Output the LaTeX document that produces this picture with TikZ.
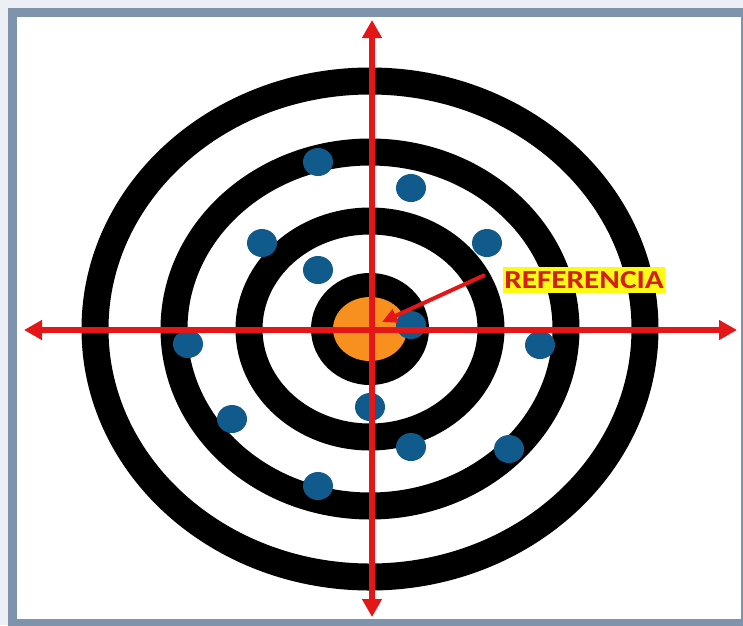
\documentclass[tikz,border=0pt]{standalone}
\usepackage{fontspec}
\newfontfamily\labelfont{Carlito}
\usetikzlibrary{arrows.meta}

\definecolor{shadowcol}{RGB}{236,239,243}
\definecolor{framecol}{RGB}{128,147,173}
\definecolor{axisred}{RGB}{228,22,24}
\definecolor{textred}{RGB}{212,30,22}
\definecolor{targetorange}{RGB}{247,144,30}
\definecolor{shotblue}{RGB}{16,90,140}
\definecolor{labelyellow}{RGB}{252,250,20}

\begin{document}
\begin{tikzpicture}[
        x=1pt,
        y=-1pt,
        ring/.style={draw=black, line width=27pt},
        shot/.style={fill=shotblue},
        axis/.style={draw=axisred, line width=6pt,
            {Triangle[length=18pt,width=19pt]}-{Triangle[length=18pt,width=19pt]}},
        refarrow/.style={draw=axisred, line width=4pt,
            -{Triangle[length=15pt,width=14pt]}}
    ]

    % ---------- marco ----------
    \useasboundingbox (0,0) rectangle (743,625);
    \clip (0,0) rectangle (743,625);
    \fill[shadowcol] (0,0) rectangle (743,625);
    \fill[framecol] (8,8) rectangle (760,640);
    \fill[white] (17,17) rectangle (741,619);

    % ---------- diana ----------
    \def\cx{370}     % centro x
    \def\cy{329}     % centro y

    \draw[ring] (\cx,\cy) ellipse[x radius=275, y radius=248];
    \draw[ring] (\cx,\cy) ellipse[x radius=196, y radius=177];
    \draw[ring] (\cx,\cy) ellipse[x radius=121, y radius=108];
    \fill[black] (\cx,\cy) ellipse[x radius=59, y radius=56];
    \fill[targetorange] (\cx,\cy) ellipse[x radius=37, y radius=32];

    % ---------- disparos ----------
    \fill[shot] (318,162) ellipse[x radius=15, y radius=14];
    \fill[shot] (411,188) ellipse[x radius=15, y radius=14];
    \fill[shot] (262,243) ellipse[x radius=15, y radius=14];
    \fill[shot] (487,243) ellipse[x radius=15, y radius=14];
    \fill[shot] (318,270) ellipse[x radius=15, y radius=14];
    \fill[shot] (411,325) ellipse[x radius=15, y radius=14];
    \fill[shot] (188,344) ellipse[x radius=15, y radius=14];
    \fill[shot] (540,345) ellipse[x radius=15, y radius=14];
    \fill[shot] (370,407) ellipse[x radius=15, y radius=14];
    \fill[shot] (232,419) ellipse[x radius=15, y radius=14];
    \fill[shot] (411,447) ellipse[x radius=15, y radius=14];
    \fill[shot] (509,449) ellipse[x radius=15, y radius=14];
    \fill[shot] (318,486) ellipse[x radius=15, y radius=14];

    % ---------- ejes ----------
    \coordinate (west) at (24,330);
    \coordinate (east) at (737,330);
    \coordinate (north) at (372,20);
    \coordinate (south) at (372,617);
    \draw[axis] (west) -- (east);
    \draw[axis] (north) -- (south);

    % ---------- referencia ----------
    \node[fill=labelyellow, text=textred, inner xsep=1pt, inner ysep=4pt,
          font=\labelfont\bfseries\fontsize{26}{26}\selectfont, xscale=1.2]
        (ref) at (584,280) {REFERENCIA};
    \coordinate (reftip) at (382,322);
    \draw[refarrow] ([xshift=-18pt,yshift=5pt]ref.west) -- (reftip);

\end{tikzpicture}
\end{document}
